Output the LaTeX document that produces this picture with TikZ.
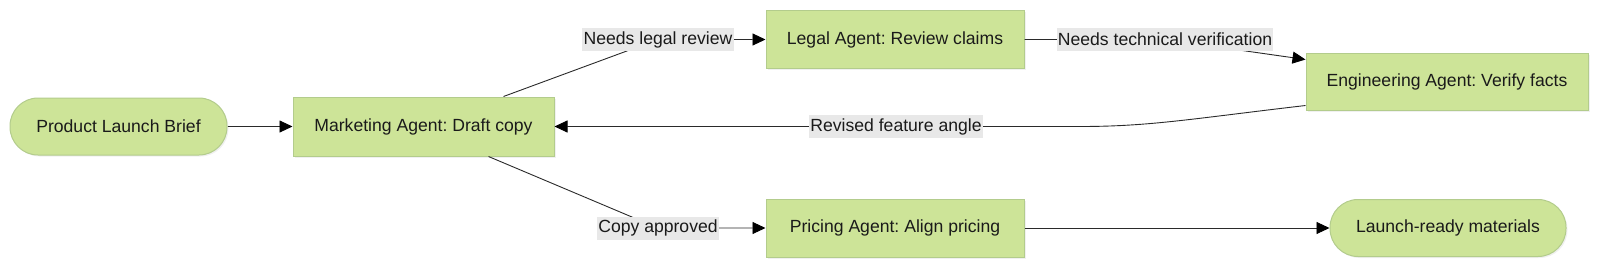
\documentclass[tikz,border=0pt]{standalone}
\usepackage{fontspec}
\setmainfont{Liberation Sans}
\usetikzlibrary{arrows.meta,shadows,calc}
\definecolor{nodefill}{HTML}{CDE498}
\definecolor{nodedraw}{HTML}{B3CC8C}
\definecolor{lblbg}{HTML}{E8E8E8}
\definecolor{txt}{HTML}{1A1A1A}
\definecolor{edge}{HTML}{2A2A2A}
\frenchspacing
\begin{document}
\begin{tikzpicture}[x=1pt,y=-1pt,
 font=\fontsize{17.6}{21}\selectfont,
 agent/.style={rectangle, fill=nodefill, draw=nodedraw, line width=1pt, text=txt, inner sep=0pt,
   drop shadow={opacity=0.12, shadow xshift=1.5pt, shadow yshift=-1.5pt}},
 term/.style={agent, rounded corners=28pt},
 lbl/.style={fill=lblbg, text=txt, inner xsep=1.2pt, inner ysep=0pt, minimum height=23pt},
 flow/.style={draw=edge, line width=0.9pt, -{Triangle[length=13pt,width=12pt,fill=black,color=black]}}
]
\useasboundingbox (0,0) rectangle (1600,268);
\node[term, minimum width=217pt, minimum height=57pt] (plb) at (118.5,126.5) {Product Launch Brief};
\node[agent, minimum width=261pt, minimum height=59pt] (mkt) at (423.5,126.5) {Marketing Agent: Draft copy};
\node[agent, minimum width=258pt, minimum height=58pt] (leg) at (895,39.5) {Legal Agent: Review claims};
\node[agent, minimum width=282pt, minimum height=57pt] (eng) at (1447,81.5) {Engineering Agent: Verify facts};
\node[agent, minimum width=258pt, minimum height=58pt] (prc) at (895,228) {Pricing Agent: Align pricing};
\node[term, minimum width=236pt, minimum height=57pt] (lrm) at (1448,228) {Launch-ready materials};

\coordinate (c1) at (658,39.5);
\coordinate (c2) at (1165,39.5);
\coordinate (c3) at (896,126.5);
\coordinate (c4) at (658,228);

\draw[flow] (plb.east) -- (mkt.west);
\draw[flow] ([xshift=80pt]mkt.north) -- (c1) -- (leg.west);
\draw[flow] (leg.east) -- (c2) -- ([yshift=-7pt]eng.north west);
\draw[flow] ([yshift=5pt]eng.south west) .. controls (1190,119) and (1150,126.5) .. (1080,126.5) -- (mkt.east);
\draw[flow] ([xshift=65pt]mkt.south) -- (c4) -- (prc.west);
\draw[flow] (prc.east) -- (lrm.west);

\node[lbl] (l1) at (c1) {Needs legal review};
\node[lbl] (l2) at (c2) {Needs technical verification};
\node[lbl] (l3) at (c3) {Revised feature angle};
\node[lbl] (l4) at (c4) {Copy approved};
\end{tikzpicture}
\end{document}
